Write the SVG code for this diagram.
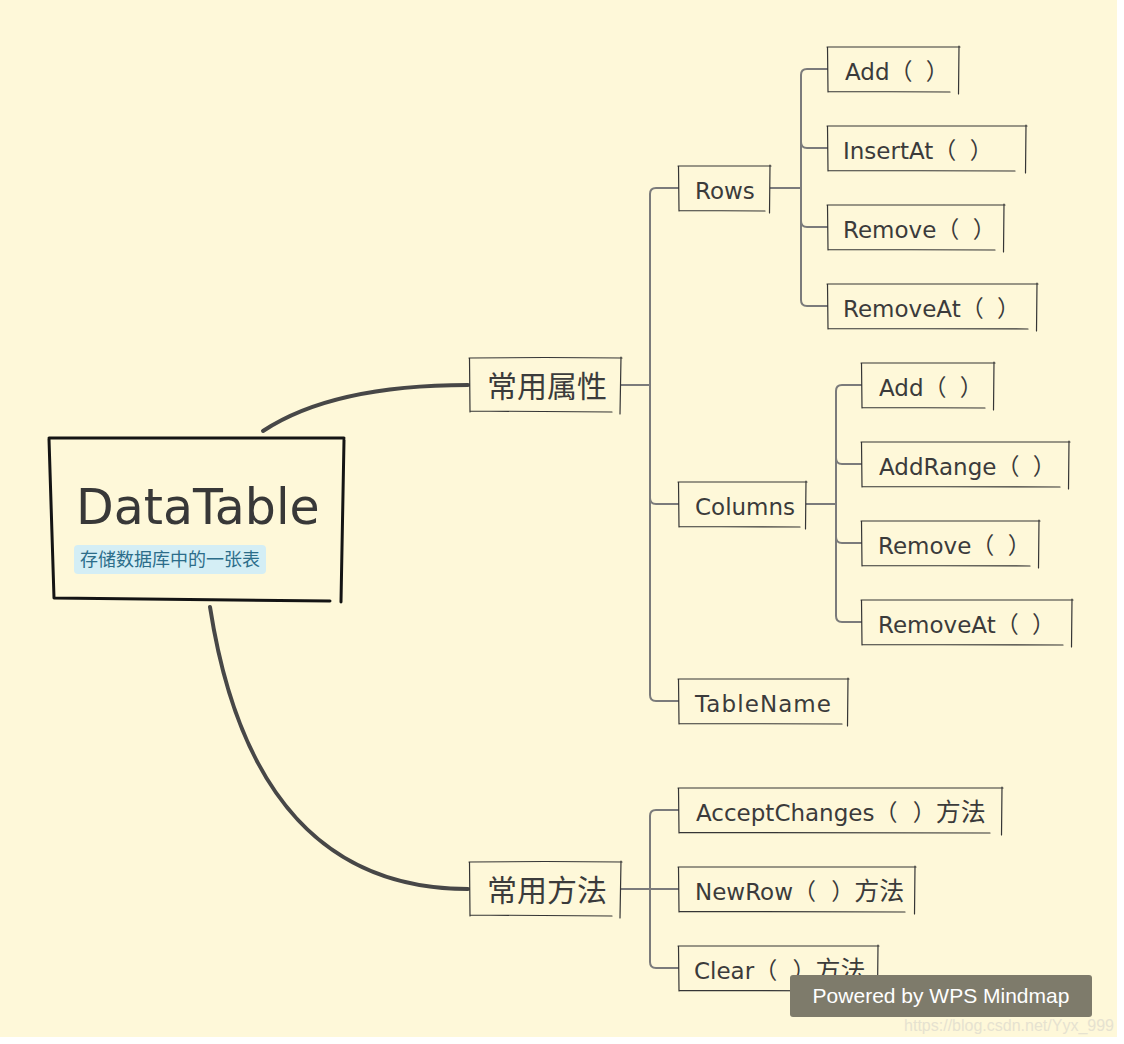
<svg xmlns="http://www.w3.org/2000/svg" width="1124" height="1044" viewBox="0 0 1124 1044">
<style>
.bg{fill:#fef8d9}
.box{fill:none;stroke:#353535;stroke-width:1.2;stroke-linecap:round}
.root{fill:none;stroke:#141414;stroke-width:3;stroke-linecap:round}
.main{fill:none;stroke:#474747;stroke-width:4;stroke-linecap:round}
.con{fill:none;stroke:#7b7b7b;stroke-width:2}
.t{font-family:"DejaVu Sans","Noto Sans CJK SC",sans-serif;font-size:23px;fill:#3b3b3b}
.cjk{font-family:"Noto Sans CJK SC","DejaVu Sans",sans-serif;font-size:25px}
.l1{font-family:"Noto Sans CJK SC",sans-serif;font-size:30px;fill:#3b3b3b}
</style>
<rect x="0" y="0" width="1124" height="1044" fill="#ffffff"/>
<rect class="bg" x="0" y="0" width="1117" height="1037"/>

<g id="connectors">
<path class="main" d="M263,431 C310,400 380,385 468,385"/>
<path class="main" d="M210,607 C240,800 330,889 468,889"/>
<path class="con" d="M621,385 H650"/>
<path class="con" d="M679,188 H656 Q650,188 650,194 V695 Q650,701 656,701 H679"/>
<path class="con" d="M650,498 Q650,504 656,504 H679"/>
<path class="con" d="M770,188 H801"/>
<path class="con" d="M828,69 H807 Q801,69 801,75 V300 Q801,306 807,306 H828"/>
<path class="con" d="M801,142 Q801,148 807,148 H828"/>
<path class="con" d="M801,221 Q801,227 807,227 H828"/>
<path class="con" d="M806,504 H836"/>
<path class="con" d="M862,385 H842 Q836,385 836,391 V616 Q836,622 842,622 H862"/>
<path class="con" d="M836,458 Q836,464 842,464 H862"/>
<path class="con" d="M836,537 Q836,543 842,543 H862"/>
<path class="con" d="M621,889 H679"/>
<path class="con" d="M679,810 H656 Q650,810 650,816 V962 Q650,968 656,968 H679"/>
</g>

<g id="root">
<path class="root" d="M49,438 L344,438 M344,440 L341,602 M330,601 L54,598 M54,598 L49,439"/>
<text x="76" y="524" style="font-family:'DejaVu Sans',sans-serif;font-size:49px;fill:#383838">DataTable</text>
<rect x="74" y="545" width="192" height="29" rx="4" fill="#d4eef5"/>
<text x="80" y="566" style="font-family:'Noto Sans CJK SC',sans-serif;font-size:18px;fill:#2c6d8a">存储数据库中的一张表</text>
</g>

<g id="n-props">
<path class="box" d="M469,358 L545,357.5 L622,358 M621,357 L620,414 M612,412 L470,411 M470,412 L469.5,358"/>
<text class="l1" x="487" y="397">常用属性</text>
</g>
<g id="n-methods">
<path class="box" d="M469,862 L545,861.5 L622,862 M621,861 L620,918 M612,916 L470,915 M470,916 L469.5,862"/>
<text class="l1" x="487" y="901">常用方法</text>
</g>

<g id="n-rows">
<path class="box" d="M678,166 L771,166 M770,165 L769.5,213 M765,211 L679,210.5 M679,211 L678.5,166"/>
<text class="t" x="695" y="199">Rows</text>
</g>
<g id="n-columns">
<path class="box" d="M678,482 L807,482 M806,481 L805.5,529 M800,527 L679,526.5 M679,527 L678.5,482"/>
<text class="t" x="695" y="515">Columns</text>
</g>
<g id="n-tablename">
<path class="box" d="M678,679 L849,679 M848,678 L847.5,726 M842,724 L679,723.5 M679,724 L678.5,679"/>
<text class="t" x="695" y="712" textLength="136">TableName</text>
</g>
<g id="n-accept">
<path class="box" d="M678,788 L1003,788 M1002,787 L1001.5,835 M990,833 L679,832.5 M679,833 L678.5,788"/>
<text class="t" x="696" y="821">AcceptChanges（<tspan dx="8"> </tspan>）<tspan class="cjk">方法</tspan></text>
</g>
<g id="n-newrow">
<path class="box" d="M678,867 L916,867 M915,866 L914.5,914 M905,912 L679,911.5 M679,912 L678.5,867"/>
<text class="t" x="695" y="900">NewRow（<tspan dx="8"> </tspan>）<tspan class="cjk">方法</tspan></text>
</g>
<g id="n-clear">
<path class="box" d="M678,946 L879,946 M878,945 L877.5,993 M870,991 L679,990.5 M679,991 L678.5,946"/>
<text class="t" x="694" y="979">Clear（<tspan dx="8"> </tspan>）<tspan class="cjk">方法</tspan></text>
</g>

<g id="n-rows-add">
<path class="box" d="M827,47 L960,47 M959,46 L958.5,94 M950,92 L828,91.5 M828,92 L827.5,47"/>
<text class="t" x="845" y="80">Add（<tspan dx="6"> </tspan>）</text>
</g>
<g id="n-rows-insertat">
<path class="box" d="M827,126 L1027,126 M1026,125 L1025.5,173 M1015,171 L828,170.5 M828,171 L827.5,126"/>
<text class="t" x="843" y="159">InsertAt（<tspan dx="6"> </tspan>）</text>
</g>
<g id="n-rows-remove">
<path class="box" d="M827,205 L1005,205 M1004,204 L1003.5,252 M995,250 L828,249.5 M828,250 L827.5,205"/>
<text class="t" x="843" y="238">Remove（<tspan dx="6"> </tspan>）</text>
</g>
<g id="n-rows-removeat">
<path class="box" d="M827,284 L1038,284 M1037,283 L1036.5,331 M1028,329 L828,328.5 M828,329 L827.5,284"/>
<text class="t" x="843" y="317">RemoveAt（<tspan dx="6"> </tspan>）</text>
</g>

<g id="n-cols-add">
<path class="box" d="M861,363 L995,363 M994,362 L993.5,410 M985,408 L862,407.5 M862,408 L861.5,363"/>
<text class="t" x="879" y="396">Add（<tspan dx="6"> </tspan>）</text>
</g>
<g id="n-cols-addrange">
<path class="box" d="M861,442 L1070,442 M1069,441 L1068.5,489 M1060,487 L862,486.5 M862,487 L861.5,442"/>
<text class="t" x="879" y="475">AddRange（<tspan dx="6"> </tspan>）</text>
</g>
<g id="n-cols-remove">
<path class="box" d="M861,521 L1040,521 M1039,520 L1038.5,568 M1030,566 L862,565.5 M862,566 L861.5,521"/>
<text class="t" x="878" y="554">Remove（<tspan dx="6"> </tspan>）</text>
</g>
<g id="n-cols-removeat">
<path class="box" d="M861,600 L1073,600 M1072,599 L1071.5,647 M1063,645 L862,644.5 M862,645 L861.5,600"/>
<text class="t" x="878" y="633">RemoveAt（<tspan dx="6"> </tspan>）</text>
</g>

<rect x="790" y="975" width="302" height="42" rx="3" fill="#7e7b6b"/>
<text x="941" y="1003" text-anchor="middle" style="font-family:'Liberation Sans',sans-serif;font-size:21px;fill:#ffffff">Powered by WPS Mindmap</text>
<text x="1114" y="1031" text-anchor="end" style="font-family:'Liberation Sans',sans-serif;font-size:16px;fill:#e6e2d0">https://blog.csdn.net/Yyx_999</text>
</svg>
